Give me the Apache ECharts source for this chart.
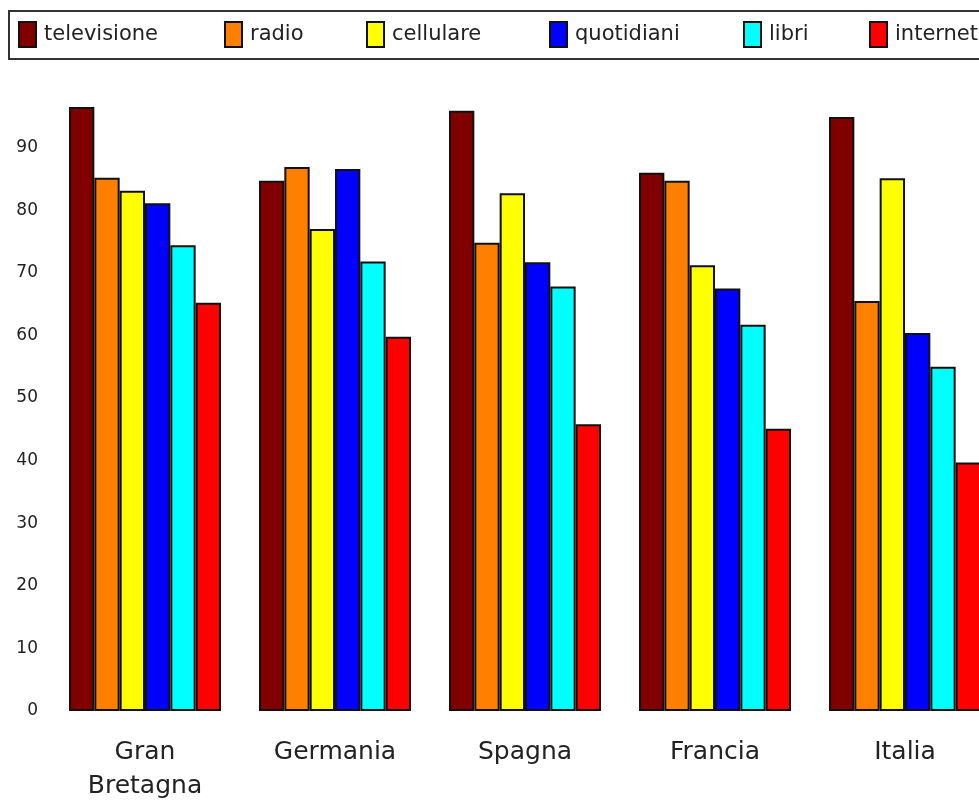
<!DOCTYPE html>
<html>
<head>
<meta charset="utf-8">
<script src="https://cdn.jsdelivr.net/npm/echarts@6/dist/echarts.min.js"></script>
<style>
  html, body { margin: 0; padding: 0; background: #fff; }
  #chart { width: 979px; height: 801px; }
</style>
</head>
<body>
<div id="chart"></div>
<script>
// Countries on the category axis
const countries = ['Gran\nBretagna', 'Germania', 'Spagna', 'Francia', 'Italia'];

// Media usage (%) per country
const televisione = [96.5, 84.7, 95.9, 86.0, 94.9];
const radio       = [85.2, 86.9, 74.8, 84.7, 65.5];
const cellulare   = [83.1, 77.0, 82.7, 71.2, 85.1];
const quotidiani  = [81.1, 86.6, 71.7, 67.5, 60.4];
const libri       = [74.4, 71.8, 67.8, 61.7, 55.0];
const internet    = [65.2, 59.8, 45.8, 45.1, 39.7];

const seriesNames  = ['televisione', 'radio', 'cellulare', 'quotidiani', 'libri', 'internet'];
const seriesValues = [televisione, radio, cellulare, quotidiani, libri, internet];
const seriesColors = ['#800000', '#FF8000', '#FFFF00', '#0000FF', '#00FFFF', '#FF0000'];

// y-axis tick range
const yMin = 0, yMax = 100, yStep = 10;

const FONT = 'DejaVu Sans';
const legendLeft = [18, 224, 366, 549, 743, 869];

const chart = echarts.init(document.getElementById('chart'));

chart.setOption({
  animation: false,
  backgroundColor: '#ffffff',
  textStyle: { fontFamily: FONT },
  graphic: [{
    type: 'rect',
    shape: { x: 9, y: 11, width: 1000, height: 48 },
    style: { fill: '#ffffff', stroke: '#333333', lineWidth: 2 },
    z: -1
  }],
  legend: seriesNames.map((name, i) => ({
    data: [{ name: name, icon: 'rect' }],
    left: legendLeft[i],
    top: 21,
    padding: 0,
    itemWidth: 17,
    itemHeight: 25,
    selectedMode: false,
    textStyle: { fontFamily: FONT, fontSize: 21, color: '#222222', padding: [0, 0, 0, 3] }
  })),
  grid: {
    left: 50, width: 950, top: 85, height: 626,
    containLabel: false,
    outerBoundsMode: 'none'
  },
  xAxis: {
    type: 'category',
    data: countries,
    axisLine: { show: false },
    axisTick: { show: false },
    axisLabel: {
      fontFamily: FONT,
      fontSize: 25,
      lineHeight: 34,
      color: '#222222',
      margin: 24
    }
  },
  yAxis: {
    type: 'value',
    min: yMin,
    max: yMax,
    interval: yStep,
    axisLine: { show: false },
    axisTick: { show: false },
    splitLine: { show: false },
    axisLabel: {
      showMaxLabel: false,
      fontFamily: FONT,
      fontSize: 17,
      color: '#222222',
      margin: 12
    }
  },
  series: seriesNames.map((name, i) => ({
    name: name,
    type: 'bar',
    data: seriesValues[i],
    barGap: '0%',
    barCategoryGap: '20%',
    itemStyle: {
      color: seriesColors[i],
      borderColor: '#111111',
      borderWidth: 2
    }
  }))
});
</script>
</body>
</html>
